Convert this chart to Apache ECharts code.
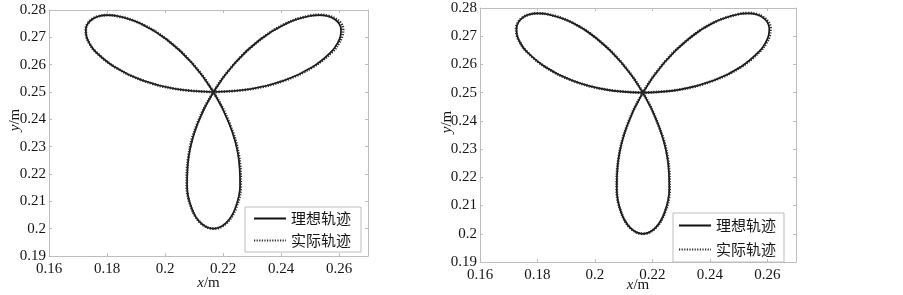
<!DOCTYPE html>
<html>
<head>
<meta charset="utf-8">
<script src="https://cdn.jsdelivr.net/npm/echarts@6/dist/echarts.min.js"></script>
<style>
  html, body { margin: 0; padding: 0; background: #fff; }
  #chart { width: 903px; height: 295px; }
</style>
</head>
<body>
<div id="chart"></div>
<script>
// ideal rose-shaped path (same for both panels)
const idealX = [0.2167, 0.2296, 0.2413, 0.2509, 0.2574, 0.2594, 0.2605, 0.2607, 0.2600, 0.2585, 0.2563, 0.2534, 0.2499, 0.2417, 0.2328, 0.2241,
    0.2167, 0.2112, 0.2082, 0.2076, 0.2092, 0.2125, 0.2167, 0.2209, 0.2242, 0.2259, 0.2253, 0.2222,
    0.2167, 0.2093, 0.2006, 0.1917, 0.1835, 0.1801, 0.1771, 0.1749, 0.1734, 0.1727, 0.1729, 0.1740, 0.1760, 0.1826, 0.1921, 0.2038, 0.2167];
const idealY = [0.2500, 0.2511, 0.2543, 0.2592, 0.2648, 0.2677, 0.2704, 0.2729, 0.2750, 0.2766, 0.2777, 0.2781, 0.2778, 0.2750, 0.2692, 0.2606,
    0.2500, 0.2383, 0.2265, 0.2159, 0.2074, 0.2019, 0.2000, 0.2019, 0.2074, 0.2159, 0.2265, 0.2383,
    0.2500, 0.2606, 0.2692, 0.2750, 0.2778, 0.2781, 0.2777, 0.2766, 0.2750, 0.2729, 0.2704, 0.2677, 0.2648, 0.2592, 0.2543, 0.2511, 0.2500];

// measured path, left panel (drifts out a little at the right-hand tip)
const actualLeftX = [0.2167, 0.2297, 0.2414, 0.2511, 0.2578, 0.2599, 0.2611, 0.2614, 0.2606, 0.2589, 0.2565, 0.2535, 0.2500, 0.2418, 0.2329, 0.2242,
    0.2167, 0.2111, 0.2081, 0.2075, 0.2092, 0.2125, 0.2168, 0.2210, 0.2244, 0.2261, 0.2255, 0.2223,
    0.2167, 0.2093, 0.2006, 0.1917, 0.1835, 0.1801, 0.1770, 0.1748, 0.1733, 0.1727, 0.1729, 0.1740, 0.1760, 0.1826, 0.1921, 0.2038, 0.2167];
const actualLeftY = [0.2500, 0.2511, 0.2543, 0.2592, 0.2648, 0.2678, 0.2705, 0.2730, 0.2752, 0.2767, 0.2778, 0.2782, 0.2779, 0.2751, 0.2692, 0.2606,
    0.2500, 0.2383, 0.2265, 0.2159, 0.2074, 0.2019, 0.2000, 0.2019, 0.2074, 0.2159, 0.2265, 0.2383,
    0.2500, 0.2606, 0.2692, 0.2750, 0.2778, 0.2781, 0.2777, 0.2766, 0.2750, 0.2729, 0.2704, 0.2677, 0.2648, 0.2592, 0.2543, 0.2511, 0.2500];

// measured path, right panel
const actualRightX = [0.2167, 0.2296, 0.2413, 0.2510, 0.2576, 0.2597, 0.2609, 0.2611, 0.2603, 0.2587, 0.2564, 0.2534, 0.2499, 0.2417, 0.2328, 0.2241,
    0.2167, 0.2112, 0.2082, 0.2076, 0.2092, 0.2125, 0.2167, 0.2209, 0.2243, 0.2260, 0.2254, 0.2222,
    0.2167, 0.2093, 0.2006, 0.1917, 0.1835, 0.1801, 0.1771, 0.1748, 0.1733, 0.1726, 0.1728, 0.1740, 0.1760, 0.1826, 0.1921, 0.2038, 0.2167];
const actualRightY = [0.2500, 0.2511, 0.2543, 0.2592, 0.2648, 0.2677, 0.2704, 0.2729, 0.2751, 0.2767, 0.2778, 0.2782, 0.2778, 0.2750, 0.2692, 0.2606,
    0.2500, 0.2383, 0.2265, 0.2159, 0.2074, 0.2019, 0.2000, 0.2019, 0.2074, 0.2159, 0.2265, 0.2383,
    0.2500, 0.2606, 0.2692, 0.2750, 0.2778, 0.2781, 0.2777, 0.2766, 0.2750, 0.2729, 0.2704, 0.2677, 0.2648, 0.2592, 0.2543, 0.2511, 0.2500];

const seriesNames = ['理想轨迹', '实际轨迹'];
const xRange = [0.16, 0.27];
const yRange = [0.19, 0.28];

function zip(xs, ys) {
    return xs.map(function (x, i) { return [x, ys[i]]; });
}

const serif = '"Liberation Serif", "DejaVu Serif", serif';
const cjk = '"Noto Sans CJK SC", sans-serif';
const frameColor = '#bdbdbd';
const textColor = '#151515';

function xAxisFor(grid, pos, labelled) {
    return {
        type: 'value', gridIndex: grid, position: pos,
        min: xRange[0], max: xRange[1], interval: 0.02,
        name: labelled ? '{i|x}/m' : '', nameLocation: 'middle', nameGap: grid === 0 ? 20 : 16,
        nameMoveOverlap: false,
        nameTextStyle: { fontFamily: serif, fontSize: 15, color: textColor, rich: { i: { fontStyle: 'italic', fontFamily: serif, fontSize: 15, color: textColor } } },
        axisLine: { show: true, lineStyle: { color: frameColor, width: 1 } },
        axisTick: { show: true, inside: true, length: 3, lineStyle: { color: frameColor } },
        axisLabel: { show: labelled, showMaxLabel: false, margin: 6, fontFamily: serif, fontSize: 15, color: textColor },
        splitLine: { show: false }
    };
}

function yAxisFor(grid, pos, labelled) {
    return {
        type: 'value', gridIndex: grid, position: pos,
        min: yRange[0], max: yRange[1], interval: 0.01,
        axisLine: { show: true, lineStyle: { color: frameColor, width: 1 } },
        axisTick: { show: true, inside: true, length: 3, lineStyle: { color: frameColor } },
        axisLabel: { show: labelled, margin: 3, fontFamily: serif, fontSize: 15, color: textColor },
        splitLine: { show: false }
    };
}

function pathSeries(name, xi, yi, data) {
    const ideal = name === seriesNames[0];
    const color = ideal ? '#111' : '#2a2a2a';
    return {
        name: name, type: 'line', xAxisIndex: xi, yAxisIndex: yi,
        data: data, symbol: 'none', smooth: 0.4, animation: false,
        z: ideal ? 2 : 3,
        itemStyle: { color: color },
        lineStyle: ideal
            ? { color: color, width: 1.7, type: 'solid' }
            : { color: color, width: 2.8, type: [1.2, 1.4] }
    };
}

function legendFor(left, top, gap, padding) {
    return {
        data: seriesNames, orient: 'vertical', left: left, top: top,
        itemWidth: 32, itemHeight: 14, itemGap: gap, padding: padding,
        borderColor: frameColor, borderWidth: 1, selectedMode: false,
        itemStyle: { opacity: 0 },
        textStyle: { fontFamily: cjk, fontSize: 15, color: textColor }
    };
}

function yName(x, y) {
    return {
        type: 'text', x: x, y: y, rotation: Math.PI / 2,
        style: {
            text: '{i|y}/m', align: 'center', verticalAlign: 'middle',
            font: '15px ' + serif, fill: textColor,
            rich: { i: { fontStyle: 'italic', fontFamily: serif, fontSize: 15, fill: textColor } }
        }
    };
}

const chart = echarts.init(document.getElementById('chart'));
chart.setOption({
    backgroundColor: '#fff',
    animation: false,
    grid: [
        { left: 49, top: 10, width: 319, height: 246, outerBoundsMode: 'none', containLabel: false },
        { left: 480, top: 8, width: 316, height: 254, outerBoundsMode: 'none', containLabel: false }
    ],
    xAxis: [xAxisFor(0, 'bottom', true), xAxisFor(0, 'top', false), xAxisFor(1, 'bottom', true), xAxisFor(1, 'top', false)],
    yAxis: [yAxisFor(0, 'left', true), yAxisFor(0, 'right', false), yAxisFor(1, 'left', true), yAxisFor(1, 'right', false)],
    legend: [
        legendFor(245, 207, 7, [4, 10, 4, 8]),
        legendFor(673, 213, 9, [5, 8, 5, 5])
    ],
    graphic: [yName(15, 120), yName(447, 122)],
    series: [
        pathSeries(seriesNames[0], 0, 0, zip(idealX, idealY)),
        pathSeries(seriesNames[1], 0, 0, zip(actualLeftX, actualLeftY)),
        pathSeries(seriesNames[0], 2, 2, zip(idealX, idealY)),
        pathSeries(seriesNames[1], 2, 2, zip(actualRightX, actualRightY))
    ]
});
</script>
</body>
</html>
